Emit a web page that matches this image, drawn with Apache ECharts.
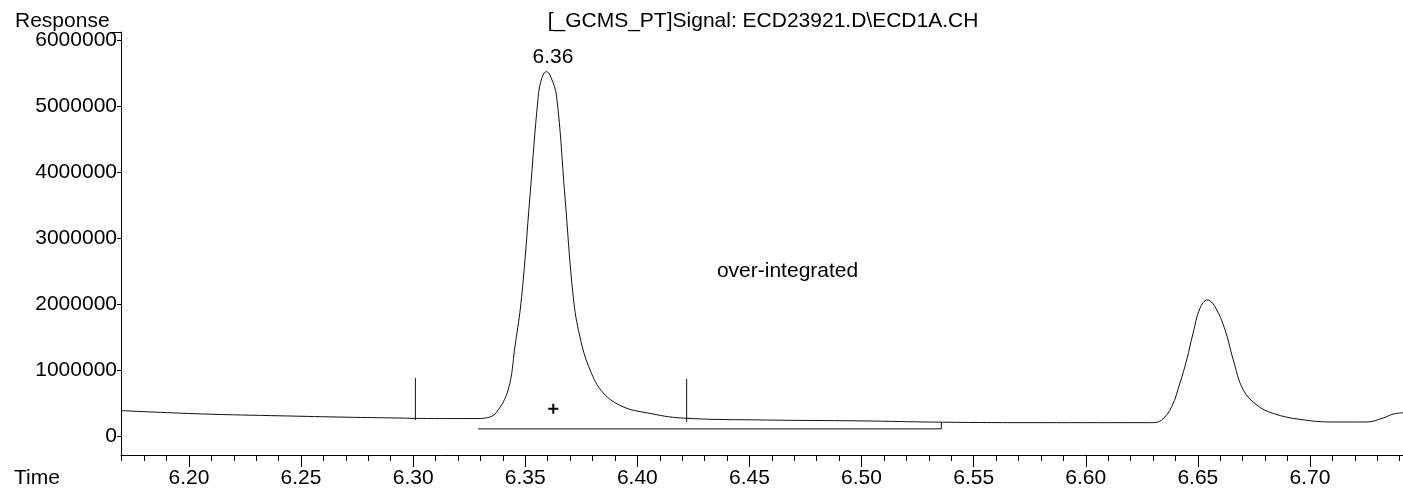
<!DOCTYPE html>
<html>
<head>
<meta charset="utf-8">
<script src="https://cdn.jsdelivr.net/npm/echarts@6/dist/echarts.min.js"></script>
<style>
html,body{margin:0;padding:0;background:#fff;}
#chart{width:1403px;height:493px;}
</style>
</head>
<body>
<div id="chart"></div>
<script>
// ---- data ----
const traceTime = [6.1697, 6.205, 6.242, 6.270, 6.294, 6.301, 6.315, 6.328, 6.333, 6.337, 6.3424, 6.3454, 6.3484, 6.3521, 6.3558, 6.3575, 6.3595, 6.3615, 6.3640, 6.3677, 6.3714, 6.3744, 6.3789, 6.3848, 6.3937, 6.4041, 6.420, 6.458, 6.499, 6.536, 6.580, 6.6294, 6.6338, 6.6383, 6.6420, 6.6450, 6.6479, 6.6509, 6.6542, 6.6576, 6.6621, 6.6658, 6.6702, 6.6762, 6.6836, 6.6955, 6.7104, 6.7252, 6.7326, 6.7371, 6.7415];
const traceResponse = [383000, 333000, 303000, 283000, 270000, 265000, 262000, 262000, 275000, 350000, 700000, 1350000, 2110000, 3630000, 5140000, 5430000, 5520000, 5430000, 5140000, 3630000, 2110000, 1500000, 1000000, 650000, 440000, 350000, 270000, 240000, 227000, 207000, 200000, 200000, 240000, 440000, 800000, 1150000, 1560000, 1930000, 2060000, 1960000, 1610000, 1150000, 700000, 470000, 340000, 250000, 210000, 210000, 270000, 330000, 350000];

const spikeTime = [6.301, 6.422];
const spikeBottom = [240000, 210000];
const spikeTop = [880000, 865000];

const boxTime = [6.329, 6.5356, 6.5356];
const boxResponse = [106000, 106000, 207000];

const plusPoint = [6.3625, 410000];
const peakLabel = { time: 6.3624, response: 5740000, text: '6.36' };
const noteLabel = { time: 6.467, response: 2500000, text: 'over-integrated' };

const xMajorTicks = [6.20, 6.25, 6.30, 6.35, 6.40, 6.45, 6.50, 6.55, 6.60, 6.65, 6.70];
const xMinorTicks = [6.17, 6.18, 6.19, 6.21, 6.22, 6.23, 6.24, 6.26, 6.27, 6.28, 6.29, 6.31, 6.32, 6.33, 6.34, 6.36, 6.37, 6.38, 6.39, 6.41, 6.42, 6.43, 6.44, 6.46, 6.47, 6.48, 6.49, 6.51, 6.52, 6.53, 6.54, 6.56, 6.57, 6.58, 6.59, 6.61, 6.62, 6.63, 6.64, 6.66, 6.67, 6.68, 6.69, 6.71, 6.72, 6.73, 6.74];
const yTicks = [0, 1000000, 2000000, 3000000, 4000000, 5000000, 6000000];

const titleText = '[_GCMS_PT]Signal: ECD23921.D\\ECD1A.CH';
const yName = 'Response';
const xName = 'Time';

// ---- chart ----
const FONT = 'Liberation Sans, Arial, sans-serif';
const FS = 21;
const X_MIN = 6.1697, X_MAX = 6.7415, Y_MIN = -290000, Y_MAX = 6120000;
const chart = echarts.init(document.getElementById('chart'), null, {renderer: 'canvas'});

const lineColor = '#111';
const series = [];
series.push({
  type: 'line', xAxisIndex: 0, yAxisIndex: 0, data: traceTime.map((t, i) => [t, traceResponse[i]]),
  showSymbol: false, smooth: 0.4,
  lineStyle: {color: lineColor, width: 1}, silent: true, z: 3
});
spikeTime.forEach((t, i) => {
  series.push({
    type: 'line', xAxisIndex: 0, yAxisIndex: 0, data: [[t, spikeBottom[i]], [t, spikeTop[i]]],
    showSymbol: false, lineStyle: {color: lineColor, width: 1}, silent: true
  });
});
series.push({
  type: 'line', xAxisIndex: 0, yAxisIndex: 0, data: boxTime.map((t, i) => [t, boxResponse[i]]),
  showSymbol: false, lineStyle: {color: lineColor, width: 1}, silent: true
});
series.push({
  type: 'scatter', xAxisIndex: 0, yAxisIndex: 0, data: [plusPoint],
  symbol: 'path://M4,0h2v4h4v2h-4v4h-2v-4h-4v-2h4z', symbolSize: 10,
  itemStyle: {color: '#000', opacity: 1}, silent: true
});
series.push({
  type: 'scatter', xAxisIndex: 0, yAxisIndex: 0,
  data: [[peakLabel.time, peakLabel.response, peakLabel.text], [noteLabel.time, noteLabel.response, noteLabel.text]],
  symbolSize: 0, silent: true, itemStyle: {opacity: 1},
  label: {show: true, position: 'inside', formatter: p => p.data[2], color: '#000', opacity: 1, textBorderWidth: 0, fontSize: FS, fontFamily: FONT}
});

chart.setOption({
  animation: false,
  backgroundColor: '#fff',
  grid: {left: 121, right: 0, top: 32, bottom: 38},
  xAxis: [{
    type: 'value', min: X_MIN, max: X_MAX, position: 'bottom',
    axisLine: {show: true, onZero: false, lineStyle: {color: '#000', width: 1}},
    axisTick: {show: true, customValues: xMajorTicks, length: 12, lineStyle: {color: '#000'}},
    axisLabel: {show: true, customValues: xMajorTicks, formatter: v => v.toFixed(2), color: '#000', fontSize: FS, fontFamily: FONT, margin: 13},
    splitLine: {show: false}
  }, {
    type: 'value', min: X_MIN, max: X_MAX, position: 'bottom', offset: 0,
    axisLine: {show: false, onZero: false},
    axisTick: {show: true, customValues: xMinorTicks, length: 6, lineStyle: {color: '#000'}},
    axisLabel: {show: false},
    splitLine: {show: false}
  }],
  yAxis: [{
    type: 'value', min: Y_MIN, max: Y_MAX, position: 'left',
    axisLine: {show: true, onZero: false, lineStyle: {color: '#000', width: 1}},
    axisTick: {show: true, customValues: yTicks, length: 4, lineStyle: {color: '#000'}},
    axisLabel: {show: true, customValues: yTicks, formatter: v => String(Math.round(v)), color: '#000', fontSize: FS, fontFamily: FONT, margin: 4},
    splitLine: {show: false}
  }, {
    type: 'value', min: Y_MIN, max: Y_MAX, position: 'left', offset: 0,
    axisLine: {show: false, onZero: false},
    axisTick: {show: true, customValues: [Y_MAX], length: 11, lineStyle: {color: '#000'}},
    axisLabel: {show: false},
    splitLine: {show: false}
  }],
  graphic: [
    {type: 'text', left: 15, top: 11, style: {text: yName, font: FS + 'px ' + FONT, fill: '#000'}},
    {type: 'text', left: 14, top: 468, style: {text: xName, font: FS + 'px ' + FONT, fill: '#000'}},
    {type: 'text', x: 763, y: 11, style: {text: titleText, font: FS + 'px ' + FONT, fill: '#000', textAlign: 'center', textVerticalAlign: 'top'}}
  ],
  series: series
});
</script>
</body>
</html>
